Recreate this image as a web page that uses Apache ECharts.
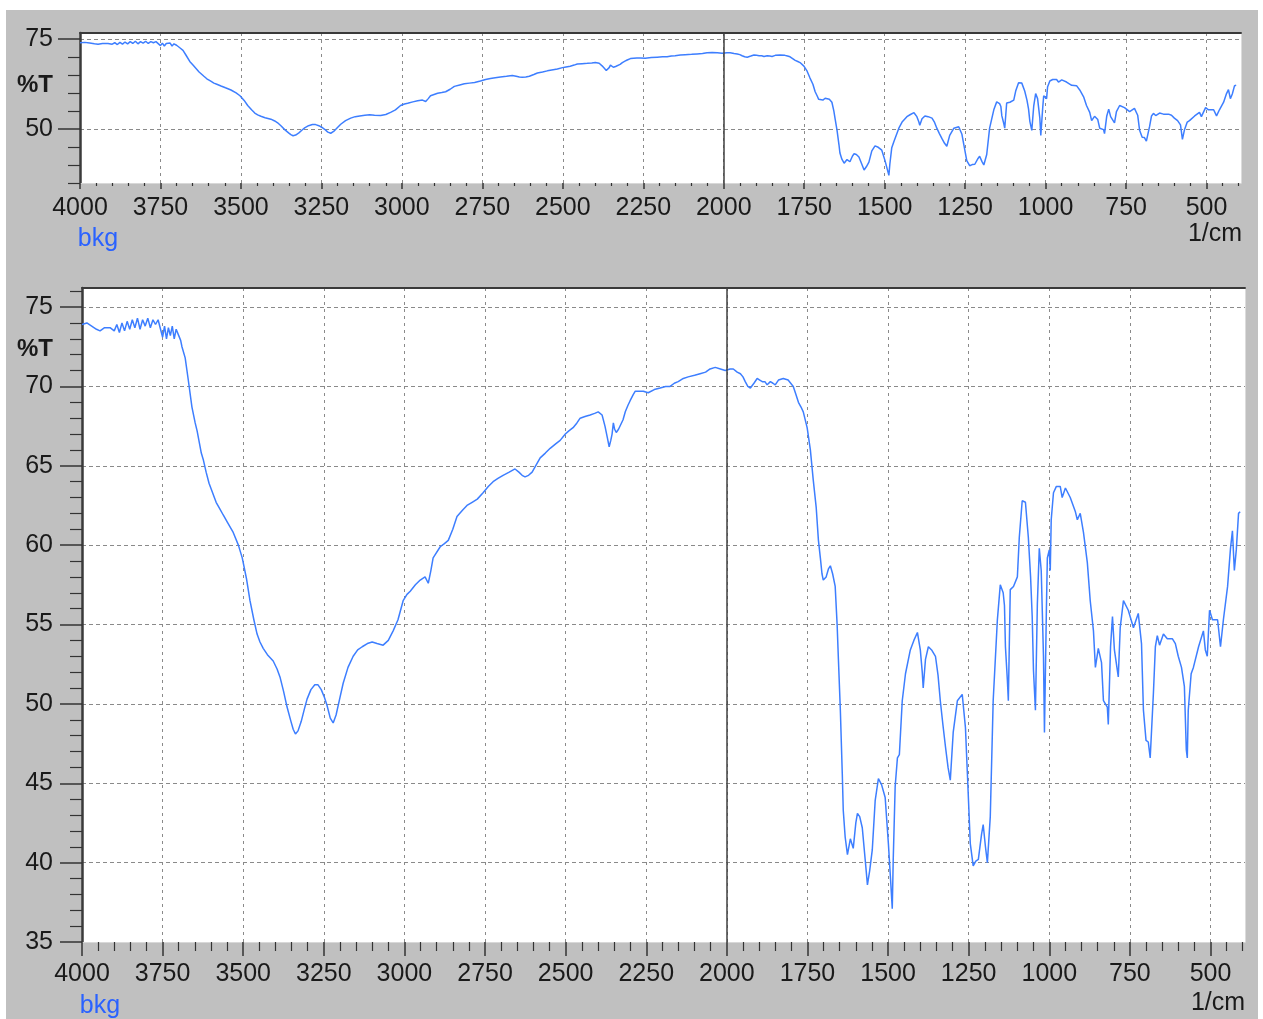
<!DOCTYPE html>
<html>
<head>
<meta charset="utf-8">
<script src="https://cdn.jsdelivr.net/npm/echarts@6/dist/echarts.min.js"></script>
<style>
  html, body { margin: 0; padding: 0; background: #fff; }
  #chart { width: 1263px; height: 1019px; }
</style>
</head>
<body>
<div id="chart"></div>
<script>
// wavenumber (1/cm) and transmittance (%T)
const wavenumbers = [
  4000, 3985, 3970, 3955, 3944, 3930, 3913, 3900, 3892, 3884, 3876, 3868, 3860, 3852, 3844, 3836,
  3828, 3820, 3812, 3804, 3796, 3788, 3780, 3772, 3764, 3758, 3750, 3744, 3738, 3732, 3726, 3720,
  3714, 3708, 3700, 3694, 3690, 3680, 3671, 3659, 3649, 3643, 3630, 3624, 3615, 3606, 3595, 3584,
  3573, 3562, 3548, 3531, 3515, 3503, 3490, 3479, 3467, 3457, 3448, 3438, 3425, 3407, 3395, 3386,
  3375, 3364, 3352, 3345, 3338, 3330, 3320, 3310, 3302, 3290, 3278, 3268, 3258, 3248, 3240, 3230,
  3221, 3212, 3200, 3190, 3175, 3159, 3145, 3131, 3115, 3100, 3085, 3066, 3050, 3035, 3020, 3004,
  2992, 2982, 2966, 2951, 2936, 2926, 2918, 2911, 2889, 2876, 2864, 2850, 2837, 2820, 2806, 2790,
  2774, 2756, 2740, 2725, 2710, 2694, 2675, 2657, 2645, 2635, 2626, 2615, 2604, 2590, 2579, 2563,
  2548, 2530, 2517, 2501, 2490, 2477, 2465, 2455, 2440, 2424, 2410, 2399, 2387, 2378, 2371, 2365,
  2360, 2356, 2352, 2348, 2343, 2336, 2331, 2322, 2315, 2307, 2300, 2290, 2284, 2270, 2259, 2244,
  2225, 2207, 2190, 2176, 2163, 2151, 2135, 2120, 2100, 2083, 2066, 2052, 2036, 2020, 2005, 1990,
  1980, 1968, 1958, 1950, 1943, 1935, 1927, 1916, 1906, 1898, 1890, 1882, 1875, 1865, 1857, 1850,
  1840, 1825, 1810, 1802, 1794, 1786, 1778, 1770, 1763, 1751, 1741, 1732, 1723, 1716, 1710, 1705,
  1701, 1692, 1685, 1679, 1672, 1664, 1658, 1654, 1648, 1642, 1639, 1633, 1626, 1617, 1608, 1600,
  1595, 1588, 1580, 1571, 1564, 1557, 1549, 1540, 1530, 1520, 1509, 1499, 1491, 1487, 1484, 1478,
  1471, 1465, 1456, 1446, 1431, 1420, 1409, 1400, 1394, 1391, 1384, 1375, 1365, 1353, 1345, 1338,
  1330, 1322, 1314, 1307, 1298, 1285, 1270, 1260, 1254, 1245, 1236, 1228, 1220, 1210, 1205, 1198,
  1192, 1183, 1174, 1161, 1152, 1143, 1139, 1136, 1130, 1127, 1121, 1111, 1105, 1099, 1093, 1084,
  1074, 1065, 1058, 1053, 1049, 1043, 1037, 1031, 1025, 1018, 1015, 1009, 1006, 1000, 997, 994,
  987, 978, 966, 960, 950, 935, 919, 913, 904, 894, 882, 873, 863, 857, 848, 838,
  832, 820, 817, 810, 804, 798, 786, 780, 770, 764, 755, 739, 724, 714, 708, 700,
  693, 687, 677, 671, 665, 658, 646, 634, 618, 609, 600, 590, 581, 575, 572, 569,
  560, 553, 537, 522, 516, 510, 503, 494, 478, 469, 460, 447, 438, 432, 426, 420,
  413, 408
];
const transmittance = [
  73.9, 74.0, 73.8, 73.6, 73.5, 73.7, 73.7, 73.5, 73.9, 73.4, 74.0, 73.5, 74.1, 73.6, 74.2, 73.7,
  74.3, 73.6, 74.2, 73.8, 74.3, 73.7, 74.2, 73.9, 74.2, 74.1, 73.1, 73.8, 73.0, 73.7, 73.2, 73.8,
  73.0, 73.6, 73.2, 72.9, 72.5, 71.8, 70.5, 68.7, 67.7, 67.2, 65.8, 65.4, 64.6, 63.9, 63.3, 62.7,
  62.3, 61.9, 61.4, 60.8, 60.0, 59.2, 57.9, 56.5, 55.3, 54.4, 53.9, 53.5, 53.1, 52.7, 52.2, 51.7,
  50.8, 49.8, 48.9, 48.4, 48.1, 48.3, 48.9, 49.7, 50.3, 50.9, 51.2, 51.2, 50.9, 50.4, 49.9, 49.1,
  48.8, 49.3, 50.4, 51.3, 52.3, 53.0, 53.4, 53.6, 53.8, 53.9, 53.8, 53.7, 54.0, 54.6, 55.3, 56.5,
  56.9, 57.1, 57.5, 57.8, 58.0, 57.6, 58.4, 59.2, 59.9, 60.1, 60.3, 61.0, 61.8, 62.2, 62.5, 62.7,
  62.9, 63.3, 63.7, 64.0, 64.2, 64.4, 64.6, 64.8, 64.6, 64.4, 64.3, 64.4, 64.6, 65.1, 65.5, 65.8,
  66.1, 66.4, 66.6, 67.0, 67.2, 67.4, 67.7, 68.0, 68.1, 68.2, 68.3, 68.4, 68.2, 67.5, 66.8, 66.2,
  66.6, 67.0, 67.7, 67.3, 67.1, 67.3, 67.4, 67.9, 68.4, 68.8, 69.1, 69.5, 69.7, 69.7, 69.7, 69.6,
  69.8, 69.9, 70.0, 70.0, 70.2, 70.3, 70.5, 70.6, 70.7, 70.8, 70.9, 71.1, 71.2, 71.1, 71.0, 71.1,
  71.1, 70.9, 70.8, 70.6, 70.3, 70.0, 69.9, 70.2, 70.5, 70.4, 70.3, 70.3, 70.1, 70.3, 70.2, 70.1,
  70.4, 70.5, 70.4, 70.2, 70.0, 69.5, 69.0, 68.7, 68.4, 67.4, 66.0, 64.1, 62.4, 60.3, 59.2, 58.2,
  57.8, 58.0, 58.5, 58.7, 58.2, 57.4, 55.0, 52.8, 49.6, 45.6, 43.3, 41.6, 40.5, 41.5, 40.9, 42.5,
  43.1, 42.9, 42.2, 40.2, 38.6, 39.5, 40.8, 43.9, 45.3, 44.9, 44.1, 41.2, 38.5, 37.1, 40.2, 44.8,
  46.6, 46.8, 50.2, 51.9, 53.4, 54.0, 54.5, 53.4, 52.0, 51.0, 52.8, 53.6, 53.4, 53.0, 51.8, 50.2,
  48.7, 47.3, 46.0, 45.2, 48.2, 50.2, 50.6, 48.5, 45.6, 41.2, 39.8, 40.1, 40.2, 41.8, 42.4, 41.0,
  40.0, 42.9, 50.2, 55.3, 57.5, 57.0, 56.2, 53.6, 51.5, 50.2, 57.2, 57.4, 57.5, 58.0, 60.5, 62.8,
  62.7, 60.5, 58.0, 55.5, 52.1, 49.6, 56.3, 59.8, 58.4, 53.0, 48.2, 55.9, 59.2, 59.7, 58.4, 61.6,
  63.3, 63.7, 63.7, 63.0, 63.6, 63.0, 62.1, 61.6, 62.0, 60.8, 58.9, 56.5, 54.6, 52.3, 53.5, 52.6,
  50.2, 49.8, 48.7, 53.6, 55.5, 53.4, 51.7, 54.8, 56.5, 56.6, 55.9, 54.8, 55.7, 53.8, 49.6, 47.7,
  47.6, 46.6, 50.7, 53.6, 54.3, 53.7, 54.4, 54.1, 54.1, 53.8, 53.0, 52.3, 51.1, 47.1, 46.6, 49.6,
  51.9, 52.3, 53.6, 54.6, 53.4, 53.0, 55.9, 55.3, 55.3, 53.6, 55.3, 57.4, 59.8, 60.9, 58.4, 59.7,
  62.0, 62.1
];

// axis ticks
const xMajorTicks = [4000, 3750, 3500, 3250, 3000, 2750, 2500, 2250, 2000, 1750, 1500, 1250, 1000, 750, 500];
const xMinorTicks = [];
for (let v = 3950; v >= 400; v -= 50) if (v % 250 !== 0) xMinorTicks.push(v);
const topYLabels = [75, 50];
const topYMinor = [70, 65, 60, 55, 45, 40, 35];
const bottomYLabels = [75, 70, 65, 60, 55, 50, 45, 40, 35];
const bottomYMinor = [];
for (let v = 36; v <= 76; v++) if (v % 5 !== 0) bottomYMinor.push(v);

const data = wavenumbers.map((w, i) => [w, transmittance[i]]);

const FONT = "'Liberation Sans Narrow', 'Arial Narrow', 'Liberation Sans', sans-serif";
const FONT_SIZE = 25;
const LINE_BLUE = "#3d7eff";
const XMIN = 393, XMAX = 4000;

const chart = echarts.init(document.getElementById("chart"));

function xAxes(gridIndex, majorLen, minorLen, labelMargin) {
  const base = { type: "value", gridIndex, min: XMIN, max: XMAX, inverse: true };
  return [
    {
      ...base,
      position: "bottom",
      axisLine: { show: true, onZero: false, lineStyle: { color: "#d8d8d8", width: 1 } },
      axisTick: { show: true, customValues: xMajorTicks, length: majorLen, lineStyle: { color: "#333", width: 1.5 } },
      axisLabel: {
        show: true, customValues: xMajorTicks, margin: labelMargin,
        fontFamily: FONT, fontSize: FONT_SIZE, color: "#1a1a1a",
        formatter: (v) => String(v),
      },
      splitLine: { show: true, lineStyle: { color: "#8a8a8a", width: 1, type: [3, 4] } },
    },
    {
      ...base,
      position: "bottom",
      axisLine: { show: false, onZero: false },
      axisTick: { show: true, customValues: xMinorTicks, length: minorLen, lineStyle: { color: "#333", width: 1.2 } },
      axisLabel: { show: false },
      splitLine: { show: false },
    },
    {
      ...base,
      position: "top",
      axisLine: { show: true, onZero: false, lineStyle: { color: "#3a3a3a", width: 2 } },
      axisTick: { show: false },
      axisLabel: { show: false },
      splitLine: { show: false },
    },
  ];
}

function yAxes(gridIndex, max, labels, minor, labelMargin) {
  const base = { type: "value", gridIndex, min: 35, max };
  return [
    {
      ...base,
      position: "left",
      axisLine: { show: true, onZero: false, lineStyle: { color: "#3a3a3a", width: 2.5 } },
      axisTick: { show: true, customValues: labels, length: 22, lineStyle: { color: "#333", width: 1.5 } },
      axisLabel: {
        show: true, customValues: labels, margin: labelMargin,
        fontFamily: FONT, fontSize: FONT_SIZE, color: "#1a1a1a",
        formatter: (v) => String(v),
      },
      splitLine: { show: true, lineStyle: { color: "#8a8a8a", width: 1, type: [4, 3] } },
    },
    {
      ...base,
      position: "left",
      axisLine: { show: false, onZero: false },
      axisTick: { show: true, customValues: minor, length: 12, lineStyle: { color: "#333", width: 1.2 } },
      axisLabel: { show: false },
      splitLine: { show: false },
    },
    {
      ...base,
      position: "right",
      axisLine: { show: true, onZero: false, lineStyle: { color: "#dcdcdc", width: 1 } },
      axisTick: { show: false },
      axisLabel: { show: false },
      splitLine: { show: false },
    },
  ];
}

function spectrum(xIdx, yIdx) {
  return {
    type: "line",
    xAxisIndex: xIdx,
    yAxisIndex: yIdx,
    data,
    showSymbol: false,
    symbol: "none",
    lineStyle: { color: LINE_BLUE, width: 1.5 },
    markLine: {
      silent: true,
      symbol: "none",
      label: { show: false },
      lineStyle: { color: "#404040", width: 1.5, type: "solid" },
      data: [{ xAxis: 2000 }],
    },
  };
}

function text(x, y, str, color, opts = {}) {
  return {
    type: "text",
    x,
    y,
    silent: true,
    style: {
      text: str,
      fill: color,
      font: `${opts.weight || "normal"} ${opts.size || FONT_SIZE}px ${FONT}`,
      align: "center",
      verticalAlign: "middle",
    },
  };
}

chart.setOption({
  animation: false,
  backgroundColor: "#fff",
  graphic: [
    { type: "rect", z: -100, silent: true, shape: { x: 6, y: 10, width: 1252, height: 1009 }, style: { fill: "#c0c0c0" } },
    text(35, 85, "%T", "#1a1a1a", { weight: "bold", size: 24 }),
    text(35, 349, "%T", "#1a1a1a", { weight: "bold", size: 24 }),
    text(98, 239, "bkg", "#2a62ff"),
    text(100, 1006, "bkg", "#2a62ff"),
    text(1215, 234, "1/cm", "#1a1a1a"),
    text(1218, 1003, "1/cm", "#1a1a1a"),
  ],
  grid: [
    { left: 80, top: 33, right: 22, height: 150, show: true, backgroundColor: "#fff", borderWidth: 0 },
    { left: 82, top: 288, right: 18, height: 654, show: true, backgroundColor: "#fff", borderWidth: 0 },
  ],
  xAxis: [...xAxes(0, 6, 3, 13), ...xAxes(1, 14, 9, 20)],
  yAxis: [...yAxes(0, 76.6, topYLabels, topYMinor, 27), ...yAxes(1, 76.2, bottomYLabels, bottomYMinor, 29)],
  series: [spectrum(0, 0), spectrum(3, 3)],
});
</script>
</body>
</html>
